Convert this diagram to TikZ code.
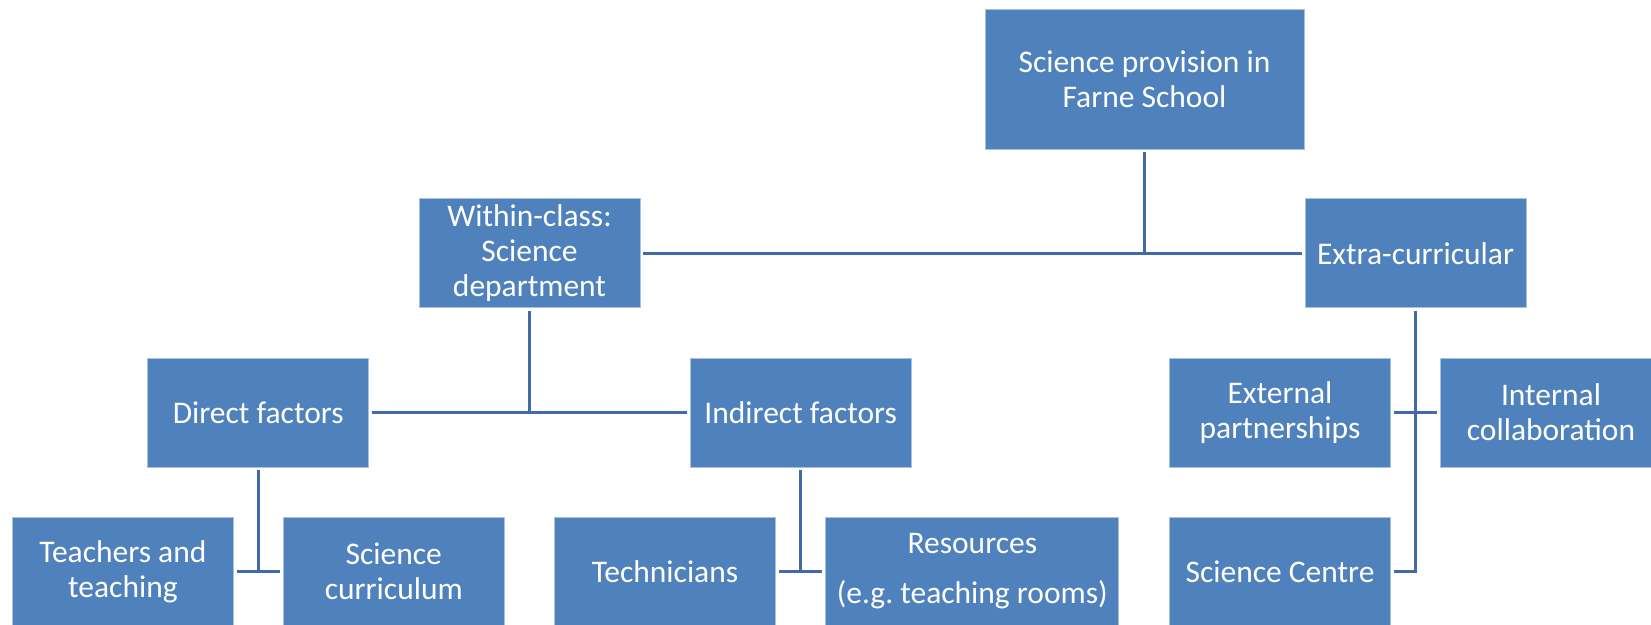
\documentclass[tikz,border=0pt]{standalone}
\usepackage{fontspec}
\setmainfont{Carlito}
\frenchspacing
\definecolor{boxblue}{RGB}{79,129,189}
\definecolor{linkblue}{RGB}{66,106,166}
\definecolor{edgeblue}{RGB}{168,192,226}
\begin{document}
\begin{tikzpicture}[x=1pt,y=-1pt,
  box/.style={rectangle, fill=boxblue, draw=edgeblue, line width=0.8pt, text=white, align=center, inner sep=0pt, minimum width=221pt, minimum height=109pt, font=\fontsize{31.5}{35}\selectfont},
  link/.style={draw=linkblue, line width=3pt}]
\useasboundingbox (0,0) rectangle (1651,624);
\node[box, minimum width=319pt, minimum height=140pt] (root) at (1144.5,79) {Science provision in\\Farne School};
\node[box] (within) at (529.5,253.3) {Within-class:\\Science\\department};
\node[box] (extra) at (1415.5,253.3) {Extra-curricular};
\node[box] (direct) at (258.2,412.5) {Direct factors};
\node[box] (indirect) at (800.7,412.5) {Indirect factors};
\node[box] (external) at (1280,412.5) {External\\partnerships};
\node[box] (internal) at (1551,412.5) {Internal\\collaboration};
\node[box] (teachers) at (122.9,571.5) {Teachers and\\teaching};
\node[box] (scicurr) at (393.8,571.5) {Science\\curriculum};
\node[box] (tech) at (665,571.5) {Technicians};
\node[box, minimum width=293pt] (resources) at (972.3,571.5) {Resources\\[15pt](e.g. teaching rooms)};
\node[box] (centre) at (1280,571.5) {Science Centre};
\draw[link] ([yshift=-3pt]root.south) -- (root.south |- within.east);
\draw[link] ([xshift=3pt]within.east) -- ([xshift=-3pt]extra.west);
\draw[link] ([yshift=-3pt]within.south) -- (within.south |- direct.east);
\draw[link] ([xshift=3pt]direct.east) -- ([xshift=-3pt]indirect.west);
\draw[link] ([yshift=-3pt]direct.south) -- (direct.south |- teachers.east);
\draw[link] ([xshift=3pt]teachers.east) -- ([xshift=-3pt]scicurr.west);
\draw[link] ([yshift=-3pt]indirect.south) -- (indirect.south |- tech.east);
\draw[link] ([xshift=3pt]tech.east) -- ([xshift=-3pt]resources.west);
\draw[link] ([yshift=-3pt]extra.south) -- (extra.south |- centre.east) -- ([xshift=3pt]centre.east);
\draw[link] ([xshift=3pt]external.east) -- ([xshift=-3pt]internal.west);
\end{tikzpicture}
\end{document}
